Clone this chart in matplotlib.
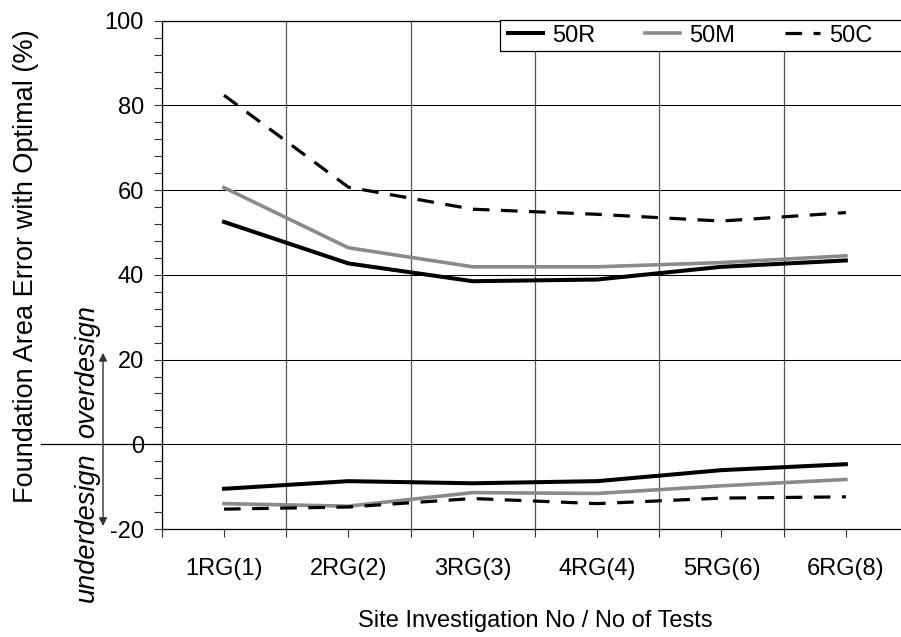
import numpy as np
import matplotlib
matplotlib.use('Agg')
import matplotlib.pyplot as plt
from matplotlib.patches import Rectangle
import matplotlib.transforms as mtransforms

plt.rcParams['font.family'] = ['Liberation Sans', 'DejaVu Sans']
plt.rcParams['axes.unicode_minus'] = False

# data
categories = ['1RG(1)', '2RG(2)', '3RG(3)', '4RG(4)', '5RG(6)', '6RG(8)']
r_over = [52.5, 42.7, 38.5, 38.9, 41.9, 43.4]
m_over = [60.6, 46.4, 41.9, 41.9, 42.9, 44.5]
c_over = [82.4, 60.7, 55.5, 54.3, 52.7, 54.7]
r_under = [-10.5, -8.7, -9.2, -8.7, -6.1, -4.7]
m_under = [-14.0, -14.6, -11.4, -11.6, -9.8, -8.3]
c_under = [-15.3, -14.8, -12.8, -14.0, -12.7, -12.4]

x = np.arange(1, len(categories) + 1)
grey = '#8a8a8a'

fig = plt.figure(figsize=(9.01, 6.37), dpi=100)
ax = fig.add_axes([0.1796, 0.1695, 0.8282, 0.798])

ln_r, = ax.plot(x, r_over, color='black', lw=2.9, label='50R', zorder=3)
ax.plot(x, r_under, color='black', lw=2.9, zorder=3)
ln_m, = ax.plot(x, m_over, color=grey, lw=2.6, label='50M', zorder=3)
ax.plot(x, m_under, color=grey, lw=2.6, zorder=3)
ln_c, = ax.plot(x, c_over, color='black', lw=2.3, dashes=(5.2, 3.6), label='50C', zorder=3)
ax.plot(x, c_under, color='black', lw=2.3, dashes=(5.2, 3.6), zorder=3)

ax.set_xlim(0.5, 6.5)
ax.set_ylim(-20, 100)

# category boundaries carry the grid, centres carry the labels
ax.set_xticks(np.arange(0.5, 7, 1.0))
ax.set_xticklabels([])
ax.set_xticks(x, minor=True)
ax.set_xticklabels(categories, minor=True, fontsize=17)
ax.tick_params(axis='x', which='both', direction='out', length=5.5, width=0.8, color='#333333')
ax.tick_params(axis='x', which='minor', pad=15)

ax.set_yticks(np.arange(-20, 101, 20))
ax.set_yticks(np.arange(-20, 101, 4), minor=True)
ax.tick_params(axis='y', which='both', direction='out', length=5.8, width=0.8, color='#333333')
ax.tick_params(axis='y', which='major', labelsize=17, pad=7)

ax.xaxis.grid(True, which='major', color='#555555', lw=0.9)
ax.yaxis.grid(True, which='major', color='black', lw=0.75)
ax.set_axisbelow(True)

for s in ['left', 'bottom', 'top', 'right']:
    ax.spines[s].set_linewidth(0.9)
    ax.spines[s].set_color('black')

ax.set_xlabel('Site Investigation No / No of Tests', fontsize=17)
ax.xaxis.set_label_coords(0.5, -0.159)
ax.set_ylabel('Foundation Area Error with Optimal (%)', fontsize=19.5)
ax.yaxis.set_label_coords(-0.165, 0.518)

# over/under design marker on the left
trans = mtransforms.blended_transform_factory(ax.transAxes, ax.transData)
ax.plot([-0.162, 0.0], [0, 0], color='black', lw=0.9, transform=trans, clip_on=False)
ax.annotate('', xy=(-0.0788, 21.6), xytext=(-0.0788, -19.3),
            xycoords=trans, textcoords=trans,
            arrowprops=dict(arrowstyle='<|-|>', color='#333333', lw=1.0,
                            mutation_scale=12, shrinkA=0, shrinkB=0),
            annotation_clip=False)
ax.text(-0.1002, 1.5, 'overdesign', transform=trans, rotation=90,
        ha='center', va='bottom', fontsize=19.5, style='italic')
ax.text(-0.1002, -2.0, 'underdesign', transform=trans, rotation=90,
        ha='center', va='top', fontsize=19.5, style='italic')

# legend: open on the right like the original
ax.add_patch(Rectangle((0.4532, 0.941), 0.6, 0.06, transform=ax.transAxes,
                       facecolor='white', edgecolor='black', lw=0.9,
                       zorder=4, clip_on=False))
leg = ax.legend(handles=[ln_r, ln_m, ln_c], loc='center left',
                bbox_to_anchor=(0.4532, 0.9705), ncol=3, frameon=False,
                fontsize=17, handlelength=1.5, handletextpad=0.37,
                columnspacing=2.1, borderpad=0.34, borderaxespad=0)
leg.set_zorder(5)

fig.savefig('out.png', dpi=100)
